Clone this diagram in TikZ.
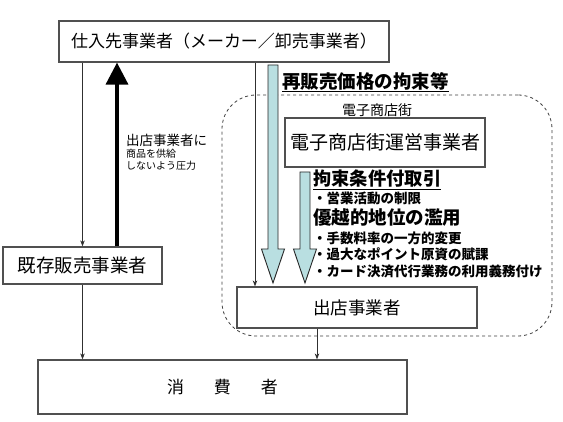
\documentclass[tikz,border=0pt]{standalone}
\usepackage{fontspec}
\setmainfont{Noto Sans CJK JP}
\usetikzlibrary{arrows.meta}
\definecolor{cyanfill}{HTML}{B9DFE1}
\definecolor{boxline}{HTML}{505050}
\definecolor{conline}{HTML}{303030}
\newcommand{\fsz}[1]{\fontsize{#1}{#1}\selectfont}
\tikzset{
  box/.style={draw=boxline, line width=1.2pt, fill=white, inner sep=0pt, minimum width=#1},
  conn/.style={draw=conline, line width=0.8pt, -{Stealth[length=6pt,width=4.5pt]}},
  thickarrow/.style={draw=black, line width=3.5pt, -{Triangle[length=22pt,width=22pt]}},
  blockarrow/.style={draw=black!85, line width=0.9pt, fill=cyanfill, line join=miter},
  mallframe/.style={draw=black!75, dashed, line width=0.8pt, rounded corners=34pt, inner sep=0pt},
  lbl/.style={inner sep=0pt, anchor=west}
}
\begin{document}
\begin{tikzpicture}[x=1pt, y=-1pt]
\useasboundingbox[fill=white] (0,0) rectangle (563,422);

% dashed electronic mall frame
\node (mall) [mallframe, minimum width=330pt, minimum height=241pt] at (387,215.5) {};
\node (malllbl) [inner sep=0pt] at (377,110) {\fsz{14}電子商店街};

% boxes
\node (top) [box=330pt, minimum height=41pt] at (224,41.5) {\fsz{17}仕入先事業者（メーカー／卸売事業者）};
\node (kiz) [box=159pt, minimum height=37pt] at (82.5,265.5) {\fsz{18.5}既存販売事業者};
\node (unei) [box=200pt, minimum height=49pt] at (385,142.5) {\fsz{19}電子商店街運営事業者};
\node (shuten) [box=240pt, minimum height=41pt] at (357,307.5) {\fsz{17.5}出店事業者};
\node (shohi) [box=369pt, minimum height=54pt] at (222.5,387) {\fsz{17}消\hspace{30pt}費\hspace{30pt}者};

% thin connectors
\draw[conn] (top.south -| kiz.north) -- (kiz.north);
\draw[conn] (kiz.south) -- (kiz.south |- shohi.north);
\coordinate (xa) at (255,0);
\coordinate (xb) at (317,0);
\draw[conn] (top.south -| xa) -- (shuten.north -| xa);
\draw[conn] (shuten.south -| xb) -- (shohi.north -| xb);

% thick arrow (pressure)
\coordinate (xt) at (117,0);
\draw[thickarrow] (kiz.north -| xt) -- (top.south -| xt);
\node (press) [lbl, anchor=north west, align=left] at (126,134) {\fsz{13.5}\baselineskip=17pt 出店事業者に\\商品を供給\\しないよう圧力};

% block arrows
\draw[blockarrow] (268,65) -- (278,65) -- (278,249) -- (284.5,249) -- (273,283) -- (261.5,249) -- (268,249) -- cycle;
\draw[blockarrow] (300,172) -- (310,172) -- (310,249) -- (316.5,249) -- (305,283) -- (293.5,249) -- (300,249) -- cycle;

% labels
\node (resale) [lbl] at (282,82) {\fsz{18.5}\bfseries\underline{再販売価格の拘束等}};
\node (kosoku) [lbl] at (313,180) {\fsz{18.3}\bfseries\underline{拘束条件付取引}};
\node (eigyo) [lbl] at (313,198) {\fsz{13.5}\bfseries ・営業活動の制限};
\node (yuetsu) [lbl] at (313,218) {\fsz{18.5}\bfseries 優越的地位の濫用};
\node (tesu) [lbl] at (313,238) {\fsz{13.5}\bfseries ・手数料率の一方的変更};
\node (kadai) [lbl] at (313,254.5) {\fsz{13.5}\bfseries ・過大なポイント原資の賦課};
\node (card) [lbl] at (313,271) {\fsz{13.5}\bfseries ・カード決済代行業務の利用義務付け};
\end{tikzpicture}
\end{document}
